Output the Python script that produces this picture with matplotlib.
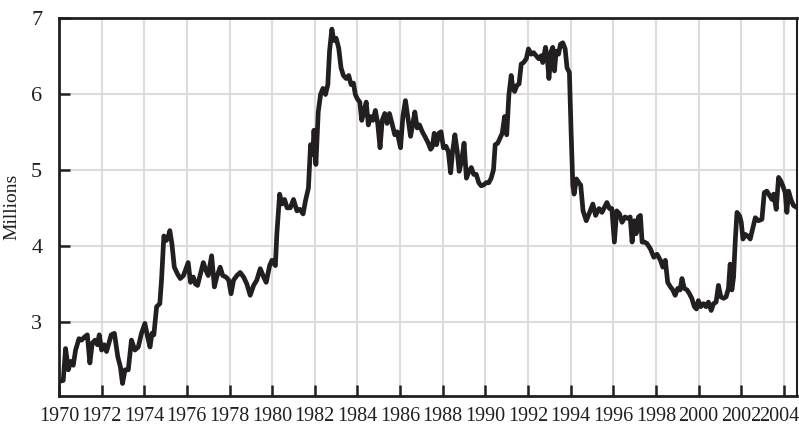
"""
Monthly series in millions, 1970 to mid-2004, as a thick black line on a light grid.
"""
import matplotlib.pyplot as plt
import matplotlib.transforms as mtransforms
import numpy as np

# Points (decimal year, millions).
years = [
    1970.05, 1970.2, 1970.31, 1970.44, 1970.55, 1970.67, 1970.78, 1970.94,
    1971.06, 1971.19, 1971.33, 1971.45, 1971.56, 1971.69, 1971.8, 1971.89,
    1972.0, 1972.12, 1972.23, 1972.34, 1972.45, 1972.6, 1972.76, 1972.88,
    1972.98, 1973.1, 1973.25, 1973.4, 1973.56, 1973.72, 1973.87, 1974.03,
    1974.16, 1974.27, 1974.36, 1974.45, 1974.58, 1974.73, 1974.81, 1974.92,
    1975.03, 1975.1, 1975.2, 1975.3, 1975.41, 1975.56, 1975.69, 1975.84,
    1976.06, 1976.17, 1976.3, 1976.4, 1976.5, 1976.6, 1976.77, 1976.89,
    1977.0, 1977.16, 1977.29, 1977.4, 1977.56, 1977.68, 1977.83, 1977.96,
    1978.07, 1978.19, 1978.35, 1978.5, 1978.66, 1978.81, 1978.97, 1979.13,
    1979.28, 1979.44, 1979.6, 1979.72, 1979.88, 1979.99, 1980.15, 1980.22,
    1980.35, 1980.46, 1980.58, 1980.7, 1980.85, 1981.0, 1981.16, 1981.3,
    1981.45, 1981.56, 1981.7, 1981.8, 1981.9, 1981.96, 1982.05, 1982.16,
    1982.27, 1982.38, 1982.5, 1982.61, 1982.69, 1982.8, 1982.89, 1983.0,
    1983.12, 1983.23, 1983.34, 1983.47, 1983.59, 1983.7, 1983.81, 1983.9,
    1984.0, 1984.11, 1984.2, 1984.3, 1984.41, 1984.51, 1984.61, 1984.72,
    1984.84, 1984.95, 1985.06, 1985.16, 1985.28, 1985.39, 1985.5, 1985.62,
    1985.75, 1985.86, 1986.02, 1986.13, 1986.25, 1986.38, 1986.49, 1986.6,
    1986.69, 1986.8, 1986.91, 1987.04, 1987.16, 1987.32, 1987.43, 1987.51,
    1987.6, 1987.71, 1987.82, 1987.92, 1988.03, 1988.15, 1988.26, 1988.37,
    1988.46, 1988.57, 1988.68, 1988.77, 1988.88, 1989.0, 1989.11, 1989.23,
    1989.34, 1989.45, 1989.57, 1989.69, 1989.8, 1989.91, 1990.04, 1990.16,
    1990.27, 1990.38, 1990.46, 1990.58, 1990.69, 1990.79, 1990.9, 1991.0,
    1991.1, 1991.21, 1991.29, 1991.37, 1991.48, 1991.58, 1991.68, 1991.79,
    1991.92, 1992.02, 1992.15, 1992.26, 1992.38, 1992.5, 1992.62, 1992.69,
    1992.82, 1992.9, 1992.98, 1993.09, 1993.16, 1993.24, 1993.32, 1993.43,
    1993.52, 1993.63, 1993.74, 1993.83, 1993.94, 1994.02, 1994.1, 1994.16,
    1994.27, 1994.38, 1994.47, 1994.58, 1994.73, 1994.89, 1995.04, 1995.17,
    1995.33, 1995.47, 1995.59, 1995.7, 1995.82, 1995.93, 1996.05, 1996.16,
    1996.29, 1996.41, 1996.55, 1996.68, 1996.79, 1996.88, 1996.99, 1997.07,
    1997.18, 1997.27, 1997.35, 1997.46, 1997.58, 1997.74, 1997.9, 1998.05,
    1998.21, 1998.32, 1998.44, 1998.55, 1998.68, 1998.79, 1998.9, 1999.02,
    1999.13, 1999.22, 1999.33, 1999.46, 1999.57, 1999.68, 1999.8, 1999.9,
    1999.99, 2000.1, 2000.23, 2000.35, 2000.46, 2000.59, 2000.7, 2000.82,
    2000.93, 2001.04, 2001.17, 2001.29, 2001.4, 2001.48, 2001.56, 2001.64,
    2001.72, 2001.8, 2001.93, 2002.0, 2002.08, 2002.19, 2002.3, 2002.42,
    2002.55, 2002.66, 2002.81, 2002.97, 2003.08, 2003.2, 2003.33, 2003.44,
    2003.52, 2003.64, 2003.75, 2003.86, 2003.95, 2004.06, 2004.14, 2004.22,
    2004.33, 2004.45, 2004.57,
]
millions = [
    2.22, 2.23, 2.65, 2.37, 2.48, 2.43, 2.63, 2.78,
    2.76, 2.80, 2.83, 2.46, 2.72, 2.76, 2.70, 2.83,
    2.63, 2.70, 2.61, 2.72, 2.83, 2.85, 2.54, 2.41,
    2.19, 2.37, 2.37, 2.76, 2.63, 2.67, 2.85, 2.98,
    2.80, 2.67, 2.85, 2.83, 3.20, 3.24, 3.55, 4.13,
    4.07, 4.10, 4.20, 4.02, 3.72, 3.63, 3.57, 3.61,
    3.78, 3.52, 3.59, 3.50, 3.48, 3.59, 3.78, 3.68,
    3.61, 3.87, 3.46, 3.59, 3.72, 3.61, 3.59, 3.55,
    3.37, 3.55, 3.61, 3.65, 3.59, 3.50, 3.35, 3.48,
    3.55, 3.70, 3.59, 3.52, 3.74, 3.81, 3.74, 4.16,
    4.68, 4.55, 4.61, 4.50, 4.50, 4.61, 4.46, 4.48,
    4.42, 4.59, 4.76, 5.33, 5.20, 5.52, 5.07, 5.76,
    5.99, 6.07, 5.99, 6.12, 6.56, 6.85, 6.70, 6.73,
    6.60, 6.34, 6.24, 6.20, 6.24, 6.12, 6.14, 5.99,
    5.93, 5.89, 5.65, 5.76, 5.89, 5.59, 5.70, 5.65,
    5.78, 5.61, 5.29, 5.65, 5.74, 5.61, 5.74, 5.61,
    5.46, 5.50, 5.29, 5.70, 5.91, 5.65, 5.44, 5.61,
    5.76, 5.55, 5.59, 5.50, 5.44, 5.35, 5.27, 5.30,
    5.48, 5.33, 5.48, 5.50, 5.29, 5.31, 5.24, 4.96,
    5.24, 5.46, 5.24, 4.98, 5.11, 5.35, 4.89, 4.98,
    5.03, 4.94, 4.94, 4.83, 4.79, 4.80, 4.83, 4.83,
    4.89, 5.00, 5.33, 5.35, 5.42, 5.48, 5.70, 5.46,
    5.98, 6.24, 6.07, 6.03, 6.11, 6.13, 6.39, 6.41,
    6.46, 6.59, 6.52, 6.54, 6.50, 6.46, 6.50, 6.41,
    6.61, 6.48, 6.20, 6.56, 6.61, 6.30, 6.56, 6.52,
    6.65, 6.67, 6.59, 6.34, 6.28, 5.50, 4.80, 4.68,
    4.88, 4.83, 4.80, 4.46, 4.33, 4.44, 4.55, 4.40,
    4.49, 4.44, 4.51, 4.57, 4.49, 4.49, 4.05, 4.46,
    4.42, 4.31, 4.38, 4.36, 4.38, 4.05, 4.33, 4.16,
    4.38, 4.40, 4.05, 4.05, 4.03, 3.96, 3.85, 3.89,
    3.81, 3.72, 3.81, 3.52, 3.46, 3.42, 3.35, 3.44,
    3.42, 3.57, 3.44, 3.42, 3.37, 3.31, 3.20, 3.17,
    3.28, 3.20, 3.24, 3.20, 3.26, 3.15, 3.24, 3.26,
    3.48, 3.33, 3.31, 3.33, 3.44, 3.76, 3.42, 3.59,
    4.07, 4.44, 4.39, 4.31, 4.09, 4.15, 4.13, 4.09,
    4.24, 4.37, 4.33, 4.35, 4.70, 4.72, 4.66, 4.61,
    4.68, 4.48, 4.90, 4.85, 4.79, 4.70, 4.44, 4.72,
    4.61, 4.53, 4.51,
]
year_ticks = np.arange(1970, 2005, 2)
value_ticks = [3, 4, 5, 6, 7]

plt.rcParams['font.family'] = ['Liberation Serif', 'DejaVu Serif']
ink = "#231f20"

fig = plt.figure(figsize=(7.99, 4.25), dpi=100)
ax = fig.add_axes([0.0738, 0.069, 0.9233, 0.8894])

ax.plot(years, millions, color=ink, linewidth=3.4, solid_joinstyle="round", zorder=3)

ax.set_xlim(1970, 2004.6)
ax.set_ylim(2.03, 7)
ax.set_xticks(year_ticks)
ax.set_yticks(value_ticks)
ax.set_xticklabels([str(y) for y in year_ticks], fontsize=14.5)
ax.set_yticklabels([str(v) for v in value_ticks], fontsize=16)

# Light grid behind the line.
ax.grid(True, color="#dcdcdc", linewidth=1.5, zorder=0)
ax.set_axisbelow(True)

ax.tick_params(axis="both", direction="in", length=8, width=1.8, color=ink, labelcolor=ink)
ax.tick_params(axis="x", pad=8)
ax.tick_params(axis="y", pad=12)
for side in ["left", "bottom", "top"]:
    ax.spines[side].set_linewidth(2.0)
    ax.spines[side].set_color(ink)
ax.spines["right"].set_linewidth(1.5)
ax.spines["right"].set_color(ink)

# The last year label sits a little left so it stays inside the figure.
last = ax.get_xticklabels()[-1]
last.set_transform(last.get_transform() + mtransforms.ScaledTranslation(-5 / 100, 0, fig.dpi_scale_trans))

ax.set_ylabel("Millions", fontsize=14, color=ink, labelpad=8)

plt.savefig("out.png", dpi=100)
plt.close()
